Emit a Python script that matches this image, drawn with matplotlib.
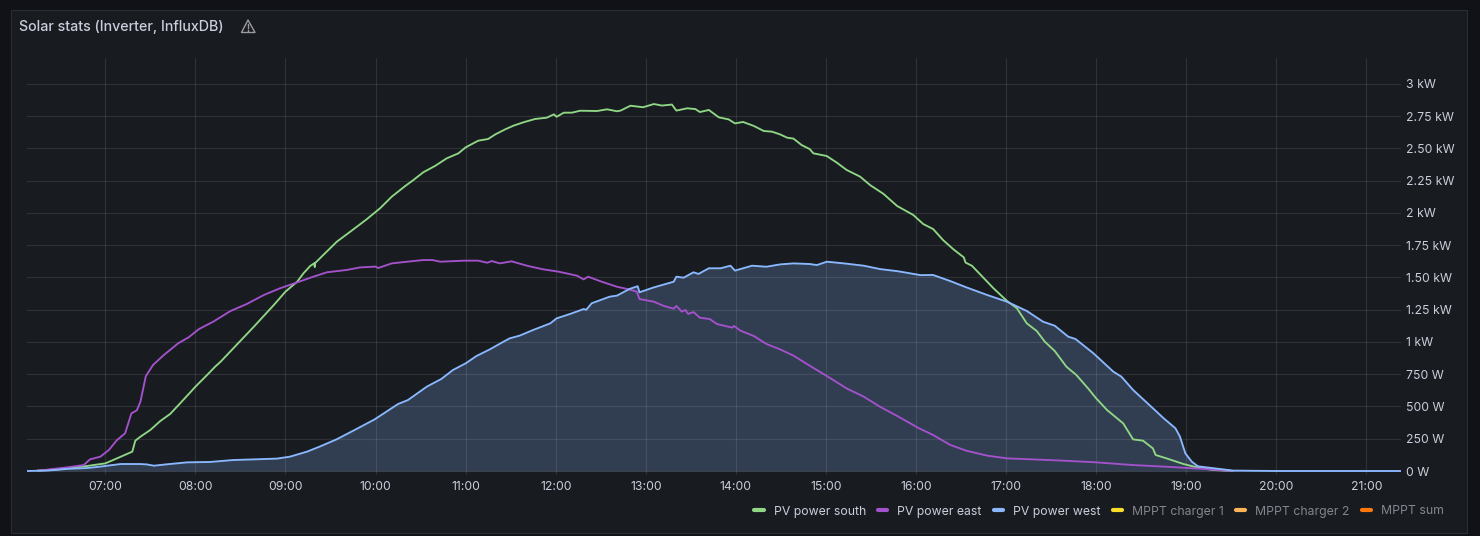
import matplotlib
matplotlib.use("Agg")
import matplotlib.pyplot as plt
from matplotlib.lines import Line2D
from matplotlib.patches import Polygon, Rectangle

# ------------------------------
# Data (hours of day, watts)
# ------------------------------

south_hours = [6.25, 6.5, 6.8, 7.0, 7.13, 7.3, 7.315, 7.333, 7.39, 7.5, 7.61, 7.72, 7.83, 7.94, 8.0, 8.13,
               8.22, 8.28, 8.42, 8.65, 8.87, 9.0, 9.13, 9.2, 9.275, 9.32, 9.325, 9.33, 9.43, 9.57, 9.72,
               9.9, 10.05, 10.18, 10.33, 10.42, 10.53, 10.66, 10.79, 10.92, 11.0, 11.14, 11.25, 11.33,
               11.44, 11.53, 11.64, 11.77, 11.9, 11.98, 12.01, 12.09, 12.18, 12.27, 12.46, 12.57, 12.68,
               12.72, 12.83, 12.97, 13.09, 13.18, 13.29, 13.34, 13.46, 13.55, 13.6, 13.7, 13.81, 13.92,
               13.99, 14.08, 14.2, 14.31, 14.4, 14.49, 14.57, 14.64, 14.73, 14.82, 14.86, 15.01, 15.12,
               15.23, 15.38, 15.49, 15.64, 15.79, 15.97, 16.08, 16.19, 16.3, 16.415, 16.53, 16.55, 16.62,
               16.73, 16.86, 17.01, 17.12, 17.23, 17.34, 17.43, 17.54, 17.67, 17.78, 17.91, 18.0, 18.12,
               18.3, 18.41, 18.52, 18.63, 18.66, 18.78, 18.97, 19.12, 19.3, 19.5]
south_watts = [3, 14, 39, 59, 98, 150, 189, 235, 266, 318, 387, 442, 524, 607, 653, 744,
               809, 847, 950, 1119, 1286, 1390, 1467, 1532, 1589, 1610, 1580, 1612, 1681, 1777, 1855,
               1950, 2036, 2126, 2209, 2255, 2315, 2364, 2423, 2462, 2508, 2560, 2573, 2609,
               2648, 2676, 2702, 2728, 2738, 2764, 2745, 2777, 2777, 2792, 2790, 2803, 2788,
               2793, 2831, 2819, 2844, 2832, 2840, 2793, 2811, 2805, 2782, 2798, 2741, 2725,
               2694, 2705, 2674, 2635, 2630, 2609, 2583, 2576, 2526, 2495, 2462, 2441, 2390,
               2333, 2281, 2216, 2147, 2054, 1984, 1914, 1875, 1790, 1718, 1656, 1615, 1591,
               1511, 1416, 1318, 1261, 1144, 1085, 1002, 930, 808, 744, 640, 563, 473,
               369, 245, 235, 175, 124, 98, 54, 28, 8, 0]

east_hours = [6.26, 6.575, 6.76, 6.83, 6.945, 7.04, 7.13, 7.22, 7.29, 7.35, 7.39, 7.45, 7.53, 7.65, 7.81,
              7.925, 8.04, 8.2, 8.39, 8.57, 8.76, 8.94, 9.13, 9.31, 9.46, 9.68, 9.83, 10.0, 10.03, 10.18,
              10.35, 10.53, 10.63, 10.72, 10.98, 11.14, 11.24, 11.29, 11.38, 11.51, 11.68, 11.86, 12.03,
              12.235, 12.31, 12.36, 12.51, 12.68, 12.81, 12.9, 12.93, 13.09, 13.2, 13.31, 13.34, 13.4,
              13.44, 13.47, 13.53, 13.6, 13.71, 13.79, 13.96, 13.98, 14.05, 14.2, 14.34, 14.49, 14.64,
              14.82, 15.01, 15.23, 15.42, 15.6, 15.79, 16.03, 16.19, 16.38, 16.56, 16.79, 17.01, 17.3,
              17.64, 18.0, 18.41, 18.78, 19.15, 19.52]
east_watts = [3, 28, 46, 90, 111, 163, 240, 292, 447, 470, 537, 735, 822, 899, 990,
              1036, 1100, 1158, 1240, 1294, 1364, 1416, 1462, 1506, 1540, 1558, 1578, 1584, 1573, 1609,
              1622, 1635, 1635, 1622, 1630, 1630, 1614, 1627, 1609, 1625, 1591, 1563, 1545,
              1514, 1485, 1506, 1467, 1428, 1408, 1390, 1333, 1312, 1279, 1258, 1279, 1235,
              1248, 1217, 1232, 1188, 1178, 1139, 1111, 1124, 1088, 1046, 984, 943, 894,
              816, 736, 640, 576, 498, 427, 332, 279, 202, 157, 119, 98, 90,
              80, 67, 46, 33, 18, 0]

west_hours = [6.13, 6.35, 6.575, 6.8, 6.945, 7.02, 7.17, 7.39, 7.46, 7.54, 7.685, 7.91, 8.165, 8.42, 8.65,
              8.905, 9.05, 9.24, 9.38, 9.57, 9.79, 9.99, 10.25, 10.36, 10.57, 10.73, 10.86, 11.0, 11.12,
              11.27, 11.42, 11.49, 11.6, 11.75, 11.94, 12.01, 12.16, 12.31, 12.34, 12.4, 12.6, 12.68,
              12.82, 12.91, 12.93, 13.09, 13.31, 13.34, 13.42, 13.53, 13.585, 13.7, 13.83, 13.94, 13.99,
              14.08, 14.18, 14.34, 14.49, 14.64, 14.82, 14.9, 15.01, 15.2, 15.42, 15.6, 15.8, 16.05,
              16.19, 16.38, 16.56, 16.79, 17.01, 17.23, 17.41, 17.54, 17.69, 17.77, 17.97, 18.19, 18.28,
              18.41, 18.63, 18.75, 18.88, 18.93, 18.99, 19.06, 19.13, 19.38, 19.52, 20.0, 21.39]
west_watts = [0, 3, 16, 23, 34, 41, 54, 54, 51, 41, 52, 67, 70, 85, 90,
              96, 111, 150, 189, 246, 326, 400, 519, 550, 654, 713, 783, 834, 891,
              943, 1002, 1028, 1049, 1093, 1144, 1183, 1217, 1255, 1250, 1300, 1351, 1359,
              1411, 1432, 1385, 1423, 1467, 1506, 1498, 1540, 1527, 1571, 1571, 1591, 1553,
              1571, 1591, 1583, 1601, 1609, 1604, 1596, 1622, 1609, 1591, 1565, 1548, 1518,
              1519, 1472, 1423, 1364, 1312, 1240, 1157, 1126, 1041, 1023, 912, 770, 731,
              628, 486, 408, 331, 266, 137, 73, 36, 15, 3, 0, 0]

hour_ticks = list(range(7, 22))
hour_labels = ["07:00", "08:00", "09:00", "10:00", "11:00", "12:00", "13:00", "14:00",
               "15:00", "16:00", "17:00", "18:00", "19:00", "20:00", "21:00"]
watt_ticks = [0, 250, 500, 750, 1000, 1250, 1500, 1750, 2000, 2250, 2500, 2750, 3000]
watt_labels = ["0 W", "250 W", "500 W", "750 W", "1 kW", "1.25 kW", "1.50 kW", "1.75 kW",
               "2 kW", "2.25 kW", "2.50 kW", "2.75 kW", "3 kW"]

# ------------------------------
# Figure and panel
# ------------------------------

W, H = 1480, 536
plt.rcParams["font.family"] = ["Inter", "DejaVu Sans"]

TEXT = "#ccccdc"
DIM = "#85858f"
GREEN = "#8fd685"
PURPLE = "#a352cc"
BLUE = "#8ab8ff"

fig = plt.figure(figsize=(W / 100, H / 100), dpi=100, facecolor="#111217")


def fx(x):
    return x / W


def fy(y):
    return 1 - y / H


# zorder below the axes, figure artists draw on top otherwise
fig.add_artist(Rectangle((fx(10.5), fy(532.5)), fx(1456), 523 / H, transform=fig.transFigure,
                         facecolor="#181b1f", edgecolor="#2a2d32", linewidth=0.8, zorder=-1))

fig.text(fx(19), fy(26.5), "Solar stats (Inverter, InfluxDB)", color=TEXT, fontsize=10.25,
         fontweight="medium", va="center", ha="left")

# warning icon next to the title
fig.add_artist(Polygon([(fx(248), fy(20)), (fx(255), fy(32.5)), (fx(241.5), fy(32.5))], closed=True,
                       transform=fig.transFigure, fill=False, edgecolor="#9a9aa3", linewidth=1.0,
                       joinstyle="round"))
fig.add_artist(Line2D([fx(248), fx(248)], [fy(24), fy(28)], transform=fig.transFigure, color="#9a9aa3",
                      linewidth=1.0))
fig.add_artist(Line2D([fx(248), fx(248)], [fy(29.6), fy(30.6)], transform=fig.transFigure, color="#9a9aa3",
                      linewidth=1.0))

# ------------------------------
# Chart
# ------------------------------

ax = fig.add_axes([fx(27), fy(475), (1401 - 27) / W, (475 - 58) / H])
ax.set_facecolor("none")

ax.fill_between(west_hours, west_watts, 0, color=BLUE, alpha=0.22, linewidth=0)
ax.plot(south_hours, south_watts, color=GREEN, linewidth=1.35, label="PV power south")
ax.plot(east_hours, east_watts, color=PURPLE, linewidth=1.35, label="PV power east")
ax.plot(west_hours, west_watts, color=BLUE, linewidth=1.35, label="PV power west")

# these three have no data in the range, they only show in the legend
ax.plot([], [], color="#fade2a", label="MPPT charger 1")
ax.plot([], [], color="#ffb357", label="MPPT charger 2")
ax.plot([], [], color="#ff780a", label="MPPT sum")

ax.set_xlim(7 + (27 - 105.3) / 90.08, 7 + (1401 - 105.3) / 90.08)
ax.set_ylim(-4 * 7.75, (471 - 58) * 7.75)

ax.set_xticks(hour_ticks, hour_labels)
ax.set_yticks(watt_ticks, watt_labels)
ax.yaxis.tick_right()
ax.tick_params(axis="both", length=0, colors=TEXT, labelsize=8.8)
ax.tick_params(axis="x", pad=4)
ax.tick_params(axis="y", pad=3.8)
ax.grid(True, color="#ccccdc", alpha=0.13, linewidth=0.8)
ax.set_axisbelow("line")
for side in ax.spines.values():
    side.set_visible(False)

# ------------------------------
# Legend
# ------------------------------

handles, labels = ax.get_legend_handles_labels()
legend_handles = [Line2D([], [], color=h.get_color(), linewidth=3, solid_capstyle="round") for h in handles]
legend = fig.legend(legend_handles, labels, loc="center right", bbox_to_anchor=(fx(1444), fy(511.5)),
                    ncol=6, frameon=False, fontsize=8.8, handlelength=0.75, handletextpad=0.84,
                    columnspacing=0.98, borderpad=0, borderaxespad=0)
for i, text in enumerate(legend.get_texts()):
    text.set_color(TEXT if i < 3 else DIM)

fig.savefig("out.png", dpi=100, facecolor=fig.get_facecolor())
